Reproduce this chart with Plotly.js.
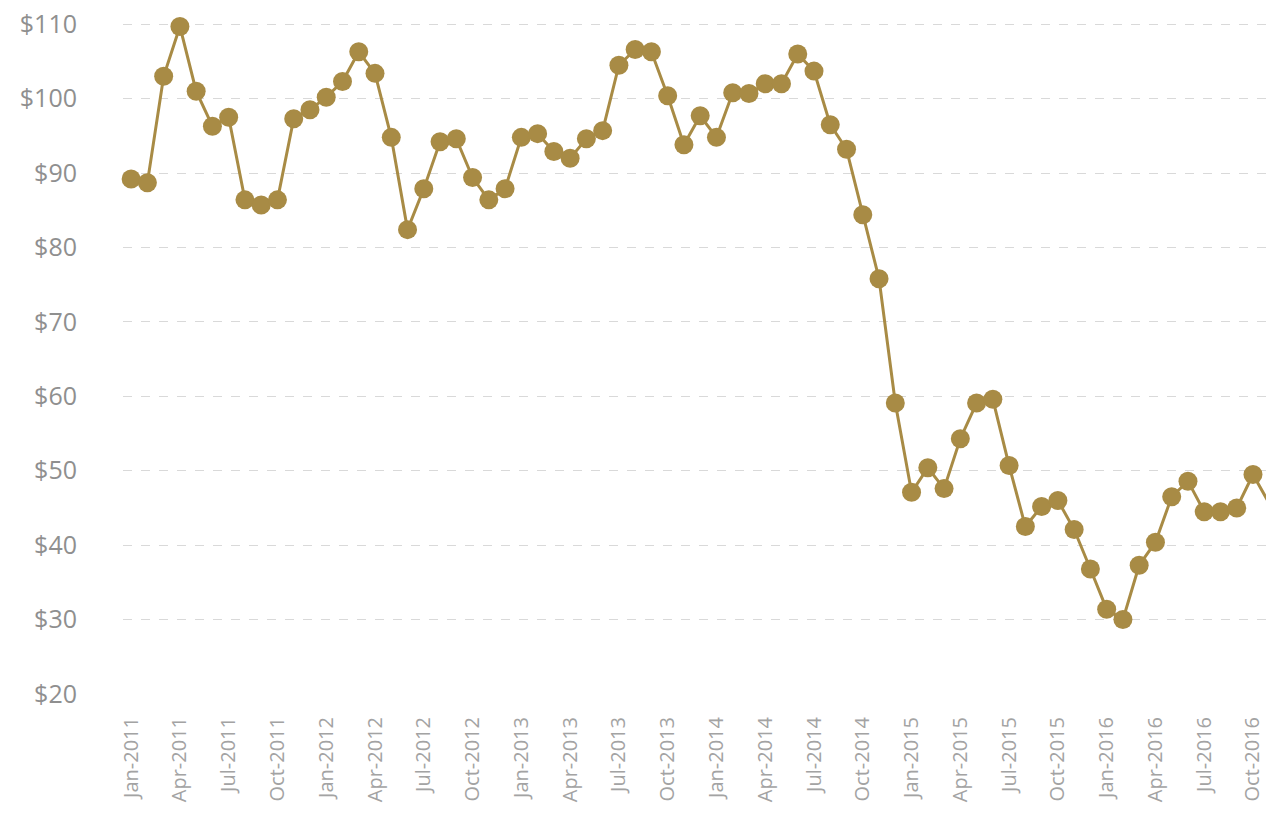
<!DOCTYPE html>
<html>
<head>
<meta charset="utf-8">
<script src="https://cdn.plot.ly/plotly-3.0.1.min.js"></script>
<style>
  html, body { margin: 0; padding: 0; background: #ffffff; overflow: hidden; }
  #chart { width: 1266px; height: 814px; }
</style>
</head>
<body>
<div id="chart"></div>
<script>
// Monthly crude oil price, Jan 2011 – Nov 2016 (USD per barrel)
const months = [
  "Jan-2011","Feb-2011","Mar-2011","Apr-2011","May-2011","Jun-2011","Jul-2011","Aug-2011","Sep-2011","Oct-2011","Nov-2011","Dec-2011",
  "Jan-2012","Feb-2012","Mar-2012","Apr-2012","May-2012","Jun-2012","Jul-2012","Aug-2012","Sep-2012","Oct-2012","Nov-2012","Dec-2012",
  "Jan-2013","Feb-2013","Mar-2013","Apr-2013","May-2013","Jun-2013","Jul-2013","Aug-2013","Sep-2013","Oct-2013","Nov-2013","Dec-2013",
  "Jan-2014","Feb-2014","Mar-2014","Apr-2014","May-2014","Jun-2014","Jul-2014","Aug-2014","Sep-2014","Oct-2014","Nov-2014","Dec-2014",
  "Jan-2015","Feb-2015","Mar-2015","Apr-2015","May-2015","Jun-2015","Jul-2015","Aug-2015","Sep-2015","Oct-2015","Nov-2015","Dec-2015",
  "Jan-2016","Feb-2016","Mar-2016","Apr-2016","May-2016","Jun-2016","Jul-2016","Aug-2016","Sep-2016","Oct-2016","Nov-2016"
];

const prices = [
  89.2, 88.7, 103.0, 109.7, 101.0, 96.3, 97.5, 86.4, 85.7, 86.4, 97.3, 98.5,
  100.2, 102.3, 106.3, 103.4, 94.8, 82.4, 87.9, 94.2, 94.6, 89.4, 86.4, 87.9,
  94.8, 95.3, 92.9, 92.0, 94.6, 95.7, 104.5, 106.6, 106.3, 100.4, 93.8, 97.7,
  94.8, 100.8, 100.7, 102.0, 102.0, 106.0, 103.7, 96.5, 93.2, 84.4, 75.8, 59.1,
  47.1, 50.4, 47.6, 54.3, 59.1, 59.6, 50.7, 42.5, 45.2, 46.0, 42.1, 36.8,
  31.4, 30.0, 37.3, 40.4, 46.5, 48.6, 44.5, 44.5, 45.0, 49.5, 45.6
];

// Quarterly tick labels on the month axis
const tickMonths = [
  "Jan-2011","Apr-2011","Jul-2011","Oct-2011",
  "Jan-2012","Apr-2012","Jul-2012","Oct-2012",
  "Jan-2013","Apr-2013","Jul-2013","Oct-2013",
  "Jan-2014","Apr-2014","Jul-2014","Oct-2014",
  "Jan-2015","Apr-2015","Jul-2015","Oct-2015",
  "Jan-2016","Apr-2016","Jul-2016","Oct-2016"
];

const priceTicks = [20, 30, 40, 50, 60, 70, 80, 90, 100, 110];
const priceLabels = ["$20", "$30", "$40", "$50", "$60", "$70", "$80", "$90", "$100", "$110"];

const gold = "#a88b45";

const trace = {
  type: "scatter",
  mode: "lines+markers",
  x: months,
  y: prices,
  line: { color: gold, width: 3 },
  marker: { color: gold, size: 19, line: { width: 0 } },
  cliponaxis: false,
  hoverinfo: "x+y"
};

const layout = {
  width: 1266,
  height: 814,
  margin: { l: 123, r: 0, t: 22, b: 120 },
  paper_bgcolor: "#ffffff",
  plot_bgcolor: "#ffffff",
  showlegend: false,
  font: { family: "Open Sans, Lato, sans-serif", color: "#8c8c8c" },
  xaxis: {
    type: "category",
    categoryorder: "array",
    categoryarray: months,
    range: [-0.5, 69.8],
    tickmode: "array",
    tickvals: tickMonths,
    ticktext: tickMonths,
    tickangle: -90,
    tickfont: { size: 20, color: "#a3a3a3" },
    ticks: "outside",
    ticklen: 14,
    tickcolor: "rgba(0,0,0,0)",
    showgrid: false,
    showline: false,
    zeroline: false
  },
  yaxis: {
    range: [20, 110.3],
    tickmode: "array",
    tickvals: priceTicks,
    ticktext: priceLabels,
    tickfont: { size: 25, color: "#8f8f8f" },
    ticks: "outside",
    ticklen: 40,
    tickcolor: "rgba(0,0,0,0)",
    showgrid: true,
    gridcolor: "#d9d9d9",
    griddash: "dash",
    gridwidth: 1,
    showline: false,
    zeroline: false
  }
};

Plotly.newPlot("chart", [trace], layout, { displayModeBar: false, staticPlot: true });
</script>
</body>
</html>
